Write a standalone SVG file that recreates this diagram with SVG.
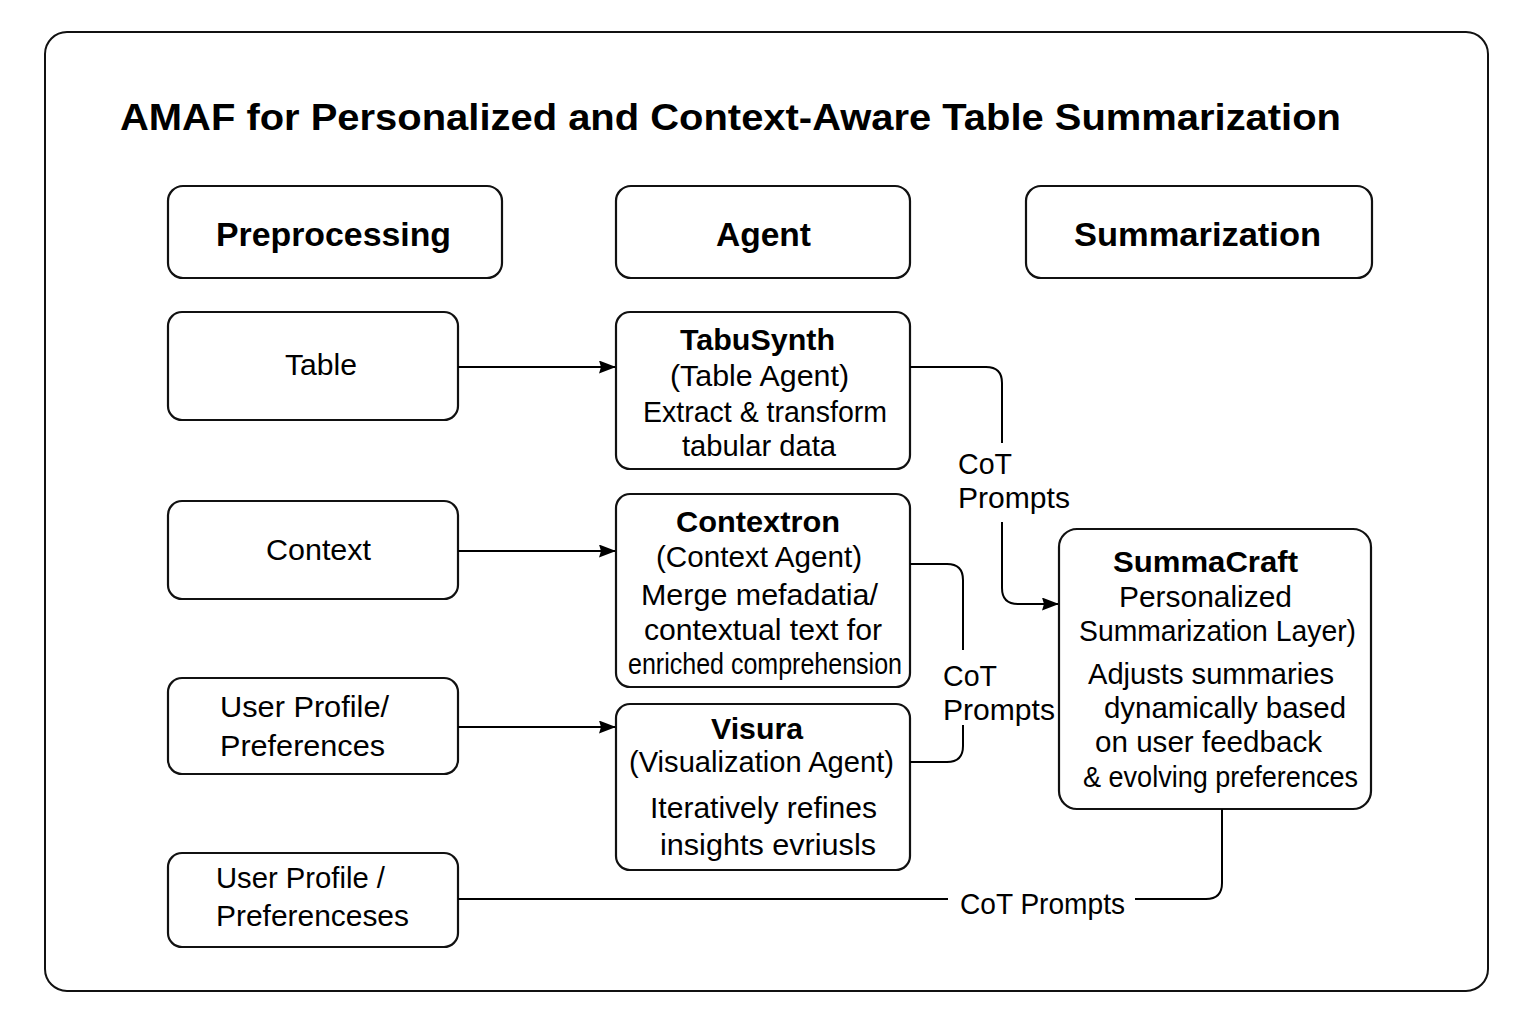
<svg xmlns="http://www.w3.org/2000/svg" width="1536" height="1024" viewBox="0 0 1536 1024">
<defs>
<marker id="arr" viewBox="0 0 17 13" refX="16" refY="6.5" markerWidth="17" markerHeight="13" markerUnits="userSpaceOnUse" orient="auto">
<path d="M0,0 L17,6.5 L0,13 L2,6.5 Z" fill="#000"/>
</marker>
</defs>
<style>
.box{fill:#fff;stroke:#111;stroke-width:2.2}
.t{font-family:"Liberation Sans",Arial,sans-serif;font-size:29px;fill:#000}
.b{font-family:"Liberation Sans",Arial,sans-serif;font-size:30px;font-weight:bold;fill:#000}
.h{font-family:"Liberation Sans",Arial,sans-serif;font-size:34px;font-weight:bold;fill:#000}
.c{fill:none;stroke:#000;stroke-width:2}
</style>
<rect width="1536" height="1024" fill="#fff"/>
<rect x="45" y="32" width="1443" height="959" rx="22" fill="none" stroke="#111" stroke-width="2"/>
<text x="120" y="130" font-family="Liberation Sans, Arial, sans-serif" font-size="37" font-weight="bold" textLength="1221" lengthAdjust="spacingAndGlyphs">AMAF for Personalized and Context-Aware Table Summarization</text>

<g id="hdr-pre"><rect class="box" x="168" y="186" width="334" height="92" rx="15"/><text class="h" x="216" y="246" textLength="235" lengthAdjust="spacingAndGlyphs">Preprocessing</text></g>
<g id="hdr-agent"><rect class="box" x="616" y="186" width="294" height="92" rx="15"/><text class="h" x="716" y="246" textLength="95" lengthAdjust="spacingAndGlyphs">Agent</text></g>
<g id="hdr-sum"><rect class="box" x="1026" y="186" width="346" height="92" rx="15"/><text class="h" x="1074" y="246" textLength="247" lengthAdjust="spacingAndGlyphs">Summarization</text></g>

<g id="table"><rect class="box" x="168" y="312" width="290" height="108" rx="14"/><text class="t" x="285" y="375" textLength="72" lengthAdjust="spacingAndGlyphs">Table</text></g>
<g id="context"><rect class="box" x="168" y="501" width="290" height="98" rx="14"/><text class="t" x="266" y="560" textLength="105" lengthAdjust="spacingAndGlyphs">Context</text></g>
<g id="user1"><rect class="box" x="168" y="678" width="290" height="96" rx="14"/><text class="t" x="220" y="717" textLength="169" lengthAdjust="spacingAndGlyphs">User Profile/</text><text class="t" x="220" y="756" textLength="165" lengthAdjust="spacingAndGlyphs">Preferences</text></g>
<g id="user2"><rect class="box" x="168" y="853" width="290" height="94" rx="14"/><text class="t" x="216" y="888" textLength="169" lengthAdjust="spacingAndGlyphs">User Profile /</text><text class="t" x="216" y="926" textLength="193" lengthAdjust="spacingAndGlyphs">Preferenceses</text></g>

<g id="tabusynth"><rect class="box" x="616" y="312" width="294" height="157" rx="14"/>
<text class="b" x="680" y="350" textLength="155" lengthAdjust="spacingAndGlyphs">TabuSynth</text>
<text class="t" x="670" y="386" textLength="179" lengthAdjust="spacingAndGlyphs">(Table Agent)</text>
<text class="t" x="643" y="422" textLength="244" lengthAdjust="spacingAndGlyphs">Extract &amp; transform</text>
<text class="t" x="682" y="456" textLength="154" lengthAdjust="spacingAndGlyphs">tabular data</text></g>

<g id="contextron"><rect class="box" x="616" y="494" width="294" height="193" rx="14"/>
<text class="b" x="676" y="532" textLength="164" lengthAdjust="spacingAndGlyphs">Contextron</text>
<text class="t" x="656" y="567" textLength="206" lengthAdjust="spacingAndGlyphs">(Context Agent)</text>
<text class="t" x="641" y="605" textLength="237" lengthAdjust="spacingAndGlyphs">Merge mefadatia/</text>
<text class="t" x="644" y="640" textLength="238" lengthAdjust="spacingAndGlyphs">contextual text for</text>
<text class="t" x="628" y="674" font-size="26" textLength="274" lengthAdjust="spacingAndGlyphs">enriched comprehension</text></g>

<g id="visura"><rect class="box" x="616" y="704" width="294" height="166" rx="14"/>
<text class="b" x="711" y="739" textLength="92" lengthAdjust="spacingAndGlyphs">Visura</text>
<text class="t" x="629" y="772" textLength="265" lengthAdjust="spacingAndGlyphs">(Visualization Agent)</text>
<text class="t" x="650" y="818" textLength="227" lengthAdjust="spacingAndGlyphs">Iteratively refines</text>
<text class="t" x="660" y="855" textLength="216" lengthAdjust="spacingAndGlyphs">insights evriusls</text></g>

<g id="summacraft"><rect class="box" x="1059" y="529" width="312" height="280" rx="18"/>
<text class="b" x="1113" y="572" textLength="185" lengthAdjust="spacingAndGlyphs">SummaCraft</text>
<text class="t" x="1119" y="607" textLength="173" lengthAdjust="spacingAndGlyphs">Personalized</text>
<text class="t" x="1079" y="641" textLength="277" lengthAdjust="spacingAndGlyphs">Summarization Layer)</text>
<text class="t" x="1088" y="684" textLength="246" lengthAdjust="spacingAndGlyphs">Adjusts summaries</text>
<text class="t" x="1104" y="718" textLength="242" lengthAdjust="spacingAndGlyphs">dynamically based</text>
<text class="t" x="1095" y="752" textLength="227" lengthAdjust="spacingAndGlyphs">on user feedback</text>
<text class="t" x="1083" y="787" textLength="275" lengthAdjust="spacingAndGlyphs">&amp; evolving preferences</text></g>

<g id="connectors">
<path class="c" d="M458,367 H615" marker-end="url(#arr)"/>
<path class="c" d="M458,551 H615" marker-end="url(#arr)"/>
<path class="c" d="M458,727 H615" marker-end="url(#arr)"/>
<path class="c" d="M910,367 H986 Q1002,367 1002,383 V443"/>
<path class="c" d="M1002,522 V588 Q1002,604 1018,604 H1058" marker-end="url(#arr)"/>
<text class="t" x="958" y="474" textLength="54" lengthAdjust="spacingAndGlyphs">CoT</text>
<text class="t" x="958" y="508" textLength="112" lengthAdjust="spacingAndGlyphs">Prompts</text>
<path class="c" d="M910,564 H947 Q963,564 963,580 V650"/>
<path class="c" d="M963,725 V746 Q963,762 947,762 H910"/>
<text class="t" x="943" y="686" textLength="54" lengthAdjust="spacingAndGlyphs">CoT</text>
<text class="t" x="943" y="720" textLength="112" lengthAdjust="spacingAndGlyphs">Prompts</text>
<path class="c" d="M1222,809 V883 Q1222,899 1206,899 H1135"/>
<path class="c" d="M948,899 H458"/>
<text class="t" x="960" y="914" font-size="28" textLength="165" lengthAdjust="spacingAndGlyphs">CoT Prompts</text>
</g>
</svg>
